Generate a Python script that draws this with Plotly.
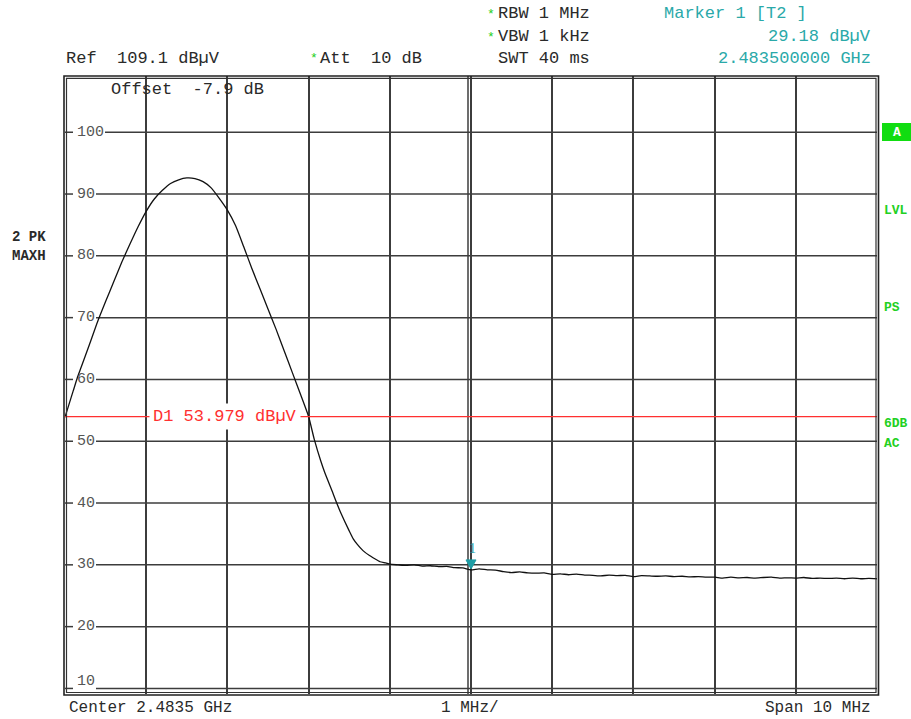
import plotly.graph_objects as go

# ---------------- data ----------------
center_ghz = 2.4835
span_mhz = 10
ref_level = 109.1
att_db = 10
rbw_label = "1 MHz"
vbw_label = "1 kHz"
swt_label = "40 ms"
offset_db = -7.9
d1_level = 53.979
marker_freq_mhz = 0.0          # offset from center
marker_level = 29.18
y_ticks = [10, 20, 30, 40, 50, 60, 70, 80, 90, 100]
x_grid_mhz = [-4, -3, -2, -1, 0, 1, 2, 3, 4]
right_labels = ["LVL", "PS", "6DB", "AC"]

freq_offset_mhz = [
    -5.00, -4.95, -4.90, -4.85, -4.80, -4.70, -4.60, -4.50, -4.40, -4.30,
    -4.20, -4.10, -4.00, -3.90, -3.80, -3.70, -3.60, -3.50, -3.40, -3.30,
    -3.20, -3.10, -3.00, -2.90, -2.80, -2.70, -2.60, -2.50, -2.40, -2.30,
    -2.20, -2.10, -2.00, -1.93, -1.85, -1.80, -1.70, -1.66, -1.60, -1.50,
    -1.45, -1.40, -1.33, -1.25, -1.20, -1.12, -1.05,
    -1.0, -0.9, -0.8, -0.7, -0.6, -0.5, -0.4, -0.3, -0.2, -0.1,
    0.0, 0.1, 0.2, 0.3, 0.4, 0.5, 0.6, 0.7, 0.8, 0.9,
    1.0, 1.1, 1.2, 1.3, 1.4, 1.5, 1.6, 1.7, 1.8, 1.9,
    2.0, 2.1, 2.2, 2.3, 2.4, 2.5, 2.6, 2.7, 2.8, 2.9,
    3.0, 3.1, 3.2, 3.3, 3.4, 3.5, 3.6, 3.7, 3.8, 3.9,
    4.0, 4.1, 4.2, 4.3, 4.4, 4.5, 4.6, 4.7, 4.8, 4.9, 5.0,
]
level_dbuv = [
    53.9, 56.0, 58.1, 60.2, 62.0, 65.6, 69.3, 72.6, 75.8, 79.0,
    81.9, 84.7, 87.2, 89.2, 90.6, 91.7, 92.3, 92.6, 92.5, 92.0,
    91.0, 89.3, 87.4, 84.9, 81.5, 78.0, 74.7, 71.4, 68.1, 64.6,
    61.1, 57.6, 54.0, 50.3, 46.8, 44.9, 41.6, 40.2, 38.3, 35.5,
    34.2, 33.3, 32.3, 31.5, 31.1, 30.5, 30.3,
    30.1, 30.0, 29.9, 30.0, 29.8, 29.85, 29.7, 29.75, 29.55, 29.5,
    29.18, 29.35, 29.2, 29.15, 28.9, 28.75, 28.85, 28.7, 28.65, 28.7,
    28.45, 28.55, 28.4, 28.5, 28.35, 28.3, 28.2, 28.35, 28.25, 28.3,
    28.1, 28.25, 28.2, 28.15, 28.2, 28.1, 28.15, 28.05, 28.1, 28.0,
    28.0, 27.85, 28.0, 27.9, 27.95, 27.85, 27.95, 28.0, 27.85, 27.9,
    27.85, 27.95, 27.8, 27.85, 27.8, 27.85, 27.75, 27.85, 27.75, 27.8, 27.75,
]

# ---------------- layout helpers ----------------
W, H = 911, 719
L, R, T, B = 65, 34, 76, 25
PW, PH = W - L - R, H - T - B


def pxx(x):
    return (x - L) / PW


def pxy(y):
    return (H - B - y) / PH


FONT = "Liberation Mono"
DARK = "#2a2a2a"
TEAL = "#2aa9a9"
GREEN = "#22d022"
RED = "#ff3030"
GRID = "#3c3c3c"

fig = go.Figure()
fig.add_trace(go.Scatter(
    x=freq_offset_mhz, y=level_dbuv, mode="lines",
    line=dict(color="#111111", width=1.3, shape="spline", smoothing=0.5),
    hoverinfo="skip", showlegend=False,
))

shapes = []
annotations = []

# horizontal gridlines with gap for the labels
for v in y_ticks:
    gap_end = 105 if v >= 100 else 96
    shapes.append(dict(type="line", xref="paper", yref="y", x0=0, x1=pxx(73),
                       y0=v, y1=v, line=dict(color=GRID, width=1.5), layer="below"))
    shapes.append(dict(type="line", xref="paper", yref="y", x0=pxx(gap_end), x1=1,
                       y0=v, y1=v, line=dict(color=GRID, width=1.5), layer="below"))
    annotations.append(dict(xref="paper", yref="y", x=pxx(75), y=v, xanchor="left",
                            yanchor="middle", text=str(v), showarrow=False,
                            yshift=7 if v == y_ticks[0] else 0,
                            font=dict(family=FONT, size=15, color="#555555")))

# double centre line
shapes.append(dict(type="line", xref="x", yref="paper", xsizemode="pixel",
                   xanchor=0, x0=-3, x1=-3, y0=0, y1=1,
                   line=dict(color=GRID, width=1.5), layer="below"))

# D1 display line
shapes.append(dict(type="line", xref="paper", yref="y", x0=0, x1=1,
                   y0=d1_level, y1=d1_level, line=dict(color=RED, width=1.2)))
annotations.append(dict(xref="paper", yref="y", x=pxx(148.5), y=d1_level,
                        xanchor="left", yanchor="middle",
                        text=f"D1 {d1_level:.3f} dBµV", showarrow=False,
                        bgcolor="white", borderpad=3,
                        font=dict(family=FONT, size=17, color=RED)))

# frame (double line)
shapes.append(dict(type="rect", xref="paper", yref="paper",
                   x0=pxx(64), x1=pxx(878.5), y0=pxy(695), y1=pxy(76),
                   line=dict(color="#222222", width=1.6)))
shapes.append(dict(type="rect", xref="paper", yref="paper",
                   x0=pxx(66.5), x1=pxx(876), y0=pxy(692.5), y1=pxy(78.3),
                   line=dict(color="#333333", width=1.2)))

# marker triangle
shapes.append(dict(type="path", xref="x", yref="y", xsizemode="pixel",
                   ysizemode="pixel", xanchor=marker_freq_mhz, yanchor=marker_level,
                   path="M -5,10 L 5,10 L 0,1 Z", fillcolor="#1f9ea6",
                   line=dict(color="#1f9ea6", width=1)))
annotations.append(dict(xref="x", yref="y", x=marker_freq_mhz, y=marker_level,
                        text="1", showarrow=False, yshift=21, xshift=1,
                        font=dict(family="Liberation Serif", size=14, color="#1f9ea6")))


def txt(x, y, s, anchor="left", color=DARK, size=17, bold=False):
    annotations.append(dict(xref="paper", yref="paper", x=pxx(x), y=pxy(y),
                            xanchor=anchor, yanchor="middle", showarrow=False,
                            text=f"<b>{s}</b>" if bold else s,
                            font=dict(family=FONT, size=size, color=color)))


# header
txt(485, 15, "*", color=GREEN, size=13)
txt(496, 14, f"RBW {rbw_label}")
txt(485, 37, "*", color=GREEN, size=13)
txt(496, 36, f"VBW {vbw_label}")
txt(496, 58, f"SWT {swt_label}")
txt(662, 14, "Marker 1 [T2 ]", color=TEAL)
txt(873, 36, f"{marker_level:.2f} dBµV", anchor="right", color=TEAL)
txt(873, 58, f"{center_ghz + marker_freq_mhz / 1000:.9f} GHz", anchor="right", color=TEAL)
txt(64, 58, f"Ref  {ref_level:.1f} dBµV")
txt(308, 59, "*", color=GREEN, size=13)
txt(318, 58, f"Att  {att_db} dB")
txt(109, 90, f"Offset  {offset_db:.1f} dB")

# footer
txt(67, 708, f"Center {center_ghz} GHz", size=16)
txt(470, 708, f"{span_mhz / 10:g} MHz/", anchor="center", size=16)
txt(873, 708, f"Span {span_mhz} MHz", anchor="right", size=16)

# left side trace info
txt(29, 237, "2 PK", anchor="center", size=14, bold=True)
txt(29, 256, "MAXH", anchor="center", size=14, bold=True)

# right side labels
shapes.append(dict(type="rect", xref="paper", yref="paper",
                   x0=pxx(882), x1=pxx(911), y0=pxy(141), y1=pxy(123),
                   fillcolor="#11dd11", line=dict(width=0)))
txt(897, 132, "A", anchor="center", color="white", size=13, bold=True)
for lab, yy in zip(right_labels, [210, 307, 423, 443]):
    txt(882, yy, lab, color=GREEN, size=13, bold=True)

fig.update_layout(
    width=W, height=H, autosize=False,
    margin=dict(l=L, r=R, t=T, b=B, pad=0),
    paper_bgcolor="white", plot_bgcolor="white",
    showlegend=False,
    xaxis=dict(range=[-span_mhz / 2, span_mhz / 2], tickvals=x_grid_mhz,
               showticklabels=False, ticks="", showgrid=True,
               gridcolor=GRID, gridwidth=1.5, zeroline=False, showline=False,
               fixedrange=True),
    yaxis=dict(range=[ref_level - 100, ref_level], showgrid=False,
               showticklabels=False, ticks="", zeroline=False, showline=False,
               fixedrange=True),
    shapes=shapes,
    annotations=annotations,
)

fig.write_html(
    "out.html",
    config={"displayModeBar": False},
    post_script="document.body.style.margin='0';document.body.style.overflow='hidden';",
)
